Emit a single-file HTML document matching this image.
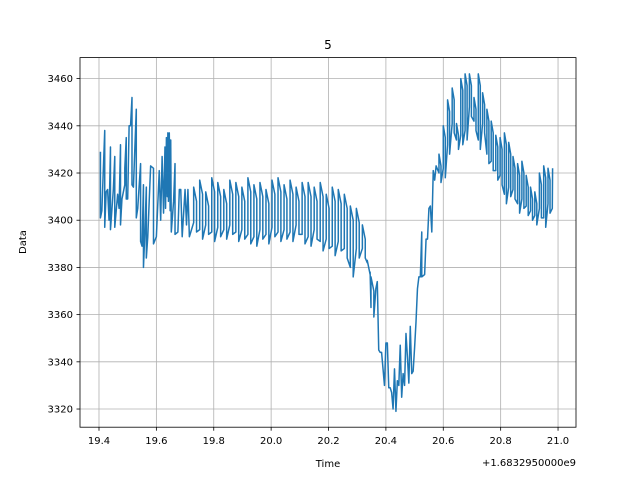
<!DOCTYPE html>
<html><head><meta charset="utf-8"><style>body{margin:0;background:#fff}svg{display:block;font-family:"DejaVu Sans","Liberation Sans",sans-serif}</style></head>
<body>
<svg id="chart" width="640" height="480"></svg>
<script>
const startT=[19.405,19.405,19.41,19.42,19.42,19.425,19.43,19.435,19.44,19.44,19.45,19.455,19.455,19.465,19.47,19.475,19.475,19.48,19.49,19.49,19.495,19.495,19.5,19.505,19.51,19.515,19.515,19.52,19.53,19.53,19.535,19.545,19.545,19.55,19.555,19.555,19.56,19.565,19.565,19.57,19.58,19.59,19.59,19.6,19.61,19.615,19.62,19.625,19.63,19.632,19.635,19.638,19.64,19.642,19.645,19.648,19.65,19.652,19.66,19.665,19.665,19.675,19.68,19.685,19.69,19.7,19.705,19.71,19.715];
const startV=[3429,3401,3404,3438,3397,3412,3413,3400,3431,3396,3413,3427,3397,3411,3405,3432,3398,3409,3415,3422,3435,3409,3409,3440,3440,3452,3415,3414,3447,3401,3405,3424,3391,3389,3415,3380,3395,3414,3384,3393,3423,3422,3390,3393,3421,3400,3427,3403,3431,3405,3435,3410,3437,3408,3437,3404,3434,3395,3408,3424,3394,3395,3413,3413,3393,3413,3398,3413,3393];
const midT=[19.73,19.751,19.772,19.793,19.814,19.835,19.856,19.877,19.898,19.919,19.94,19.961,19.982,20.003,20.024,20.045,20.066,20.087,20.108,20.129,20.15,20.171,20.192,20.213,20.234,20.255,20.276,20.297,20.318,20.335,20.348];
const midHigh=[3414,3417,3412,3418,3416,3413,3417,3416,3414,3418,3415,3416,3413,3417,3418,3415,3417,3414,3416,3416,3414,3416,3411,3414,3413,3411,3406,3405,3398,3383,3376];
const midLow=[3395,3392,3394,3391,3393,3392,3394,3391,3392,3390,3389,3392,3390,3393,3391,3392,3391,3394,3390,3389,3392,3387,3388,3385,3387,3384,3376,3384,3384,3378,3359];
const dipT=[20.365,20.37,20.375,20.38,20.385,20.395,20.40,20.405,20.41,20.415,20.42,20.425,20.43,20.435,20.44,20.445,20.45,20.455,20.46,20.465,20.47,20.475,20.48,20.485,20.49,20.495,20.50,20.505,20.51,20.515,20.52,20.525,20.525,20.535,20.54,20.545,20.55,20.555,20.56,20.565,20.57,20.575];
const dipV=[3371,3374,3345,3344,3344,3330,3348,3348,3329,3329,3327,3320,3337,3319,3332,3330,3347,3325,3335,3330,3352,3342,3331,3355,3335,3336,3346,3357,3371,3376,3376,3395,3376,3377,3392,3392,3405,3406,3395,3421,3417,3423];
const endT=[20.585,20.600,20.615,20.631,20.646,20.661,20.676,20.691,20.707,20.722,20.737,20.752,20.767,20.783,20.798,20.813,20.828,20.843,20.859,20.874,20.889,20.904,20.919,20.935,20.950,20.965,20.980];
const endHigh=[3428,3440,3451,3456,3441,3460,3462,3462,3452,3462,3454,3447,3442,3436,3435,3437,3433,3427,3424,3425,3419,3414,3412,3420,3423,3422,3422];
const endLow=[3416,3418,3428,3437,3430,3432,3434,3444,3438,3430,3437,3424,3421,3417,3415,3407,3410,3409,3403,3405,3402,3400,3398,3401,3397,3403,3405];
const xTicks=[19.4,19.6,19.8,20.0,20.2,20.4,20.6,20.8,21.0];
const xTickLabels=["19.4","19.6","19.8","20.0","20.2","20.4","20.6","20.8","21.0"];
const yTicks=[3320,3340,3360,3380,3400,3420,3440,3460];

const L=80,R=576,T=57.6,B=427.2;
const xMin=19.3338,xMax=21.0626,yMin=3312.3,yMax=3468.9;
const sx=t=>L+(t-xMin)/(xMax-xMin)*(R-L);
const sy=v=>B-(v-yMin)/(yMax-yMin)*(B-T);
const NS="http://www.w3.org/2000/svg";
const svg=document.getElementById('chart');
function mk(tag,attrs,parent){const e=document.createElementNS(NS,tag);for(const k in attrs)e.setAttribute(k,attrs[k]);(parent||svg).appendChild(e);return e;}

const ts=[],vs=[];
startT.forEach((t,i)=>{ts.push(t);vs.push(startV[i]);});
midT.forEach((t,i)=>{const h=midHigh[i],l=midLow[i];ts.push(t);vs.push(l+4);ts.push(t);vs.push(h);ts.push(t+0.01);vs.push(h-6);ts.push(t+0.01);vs.push(l);});
dipT.forEach((t,i)=>{ts.push(t);vs.push(dipV[i]);});
endT.forEach((t,i)=>{const h=endHigh[i],l=endLow[i];if(i===endT.length-1){ts.push(t);vs.push(l);ts.push(t+0.001);vs.push(h);}else{ts.push(t);vs.push(l+4);ts.push(t);vs.push(h);ts.push(t+0.007);vs.push(h-5);ts.push(t+0.007);vs.push(l);}});

const grid=mk('g',{});


xTicks.forEach((t,i)=>{
  const x=sx(t);
  const gl=mk('line',{x1:x,x2:x,y1:T,y2:B,stroke:'#b0b0b0','stroke-width':0.8},grid);
  
  
  mk('line',{x1:x,x2:x,y1:B,y2:B+3.5,stroke:'#000','stroke-width':0.8});
  const tx=mk('text',{x:x,y:B+17,'text-anchor':'middle','font-size':10});
  tx.textContent=xTickLabels[i];
  
  
});
yTicks.forEach(v=>{
  const y=sy(v);
  const gl=mk('line',{x1:L,x2:R,y1:y,y2:y,stroke:'#b0b0b0','stroke-width':0.8},grid);
  
  
  mk('line',{x1:L-3.5,x2:L,y1:y,y2:y,stroke:'#000','stroke-width':0.8});
  const tx=mk('text',{x:L-7,y:y+3.5,'text-anchor':'end','font-size':10});
  tx.textContent=String(v);
  
  
});
const line=mk('polyline',{points:ts.map((t,i)=>sx(t).toFixed(2)+','+sy(vs[i]).toFixed(2)).join(' '),fill:'none',stroke:'#1f77b4','stroke-width':1.5,'stroke-linejoin':'round'});


const frame=mk('rect',{x:L,y:T,width:R-L,height:B-T,fill:'none',stroke:'#000','stroke-width':0.8});


</script>
<div style="position:absolute;left:0;top:0;width:640px;height:480px;pointer-events:none">
<svg width="640" height="480" style="font-family:'DejaVu Sans','Liberation Sans',sans-serif">
<text x="328" y="49" text-anchor="middle" font-size="12">5</text>
<text x="328" y="467" text-anchor="middle" font-size="10">Time</text>
<text x="576" y="466" text-anchor="end" font-size="10">+1.6832950000e9</text>
<text x="26" y="242" text-anchor="middle" font-size="10" transform="rotate(-90 26 242)">Data</text>
</svg></div>
</body></html>
